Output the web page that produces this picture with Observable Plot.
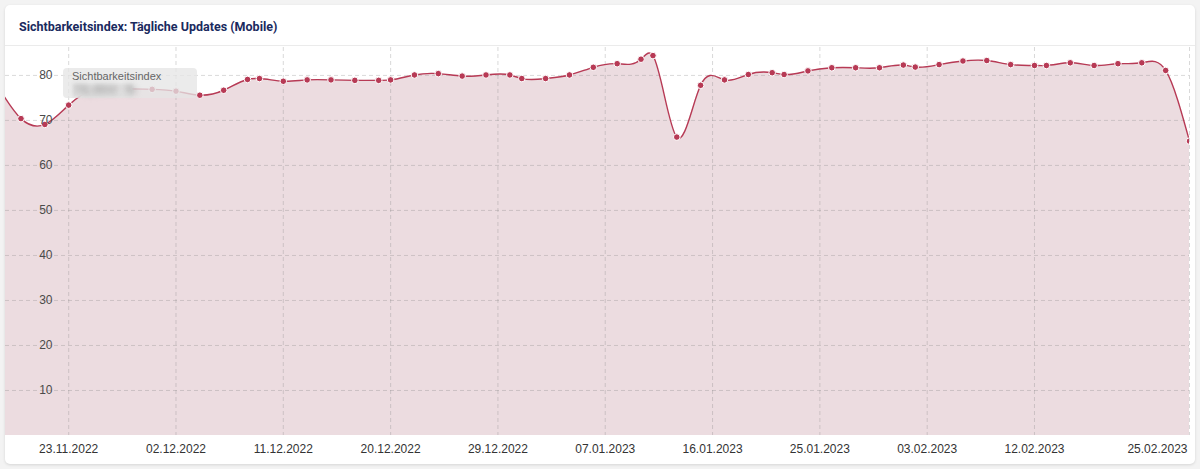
<!DOCTYPE html>
<html><head><meta charset="utf-8">
<script src="https://cdn.jsdelivr.net/npm/d3@7"></script>
<script src="https://cdn.jsdelivr.net/npm/@observablehq/plot@0.6"></script>
<style>
body{margin:0;background:#f3f3f3;width:1200px;height:469px;overflow:hidden;font-family:Roboto,"Liberation Sans",Arial,sans-serif}
.card{position:absolute;left:5px;top:5px;width:1190px;height:459px;background:#fff;border-radius:5px;box-shadow:0 1px 3px rgba(0,0,0,.12);overflow:hidden}
.head{height:41px;border-bottom:1px solid #ebebeb;box-sizing:border-box;padding-left:14px;line-height:43px;font-weight:700;font-size:12.5px;color:#1a2a5e}
#chart{position:absolute;left:0;top:41px}
.tip{position:absolute;left:58px;top:63px;width:134px;height:30px;background:rgba(230,230,230,0.78);border-radius:4px}
.tip .t{position:absolute;left:9px;top:2px;font-size:11px;color:#666;font-family:"Liberation Sans",Arial,sans-serif}
.tip .vb{position:absolute;left:10px;top:16px;width:60px;height:13px;background:rgba(222,222,222,0.95);filter:blur(1px)}
.tip .v{position:absolute;left:11px;top:15px;font-size:12px;font-weight:700;color:#a0a0a0;filter:blur(3px);font-family:"Liberation Sans",Arial,sans-serif;letter-spacing:1px}
</style></head>
<body>
<div class="card">
  <div class="head">Sichtbarkeitsindex: Tägliche Updates (Mobile)</div>
  <div id="chart"></div>
  <div class="tip"><div class="t">Sichtbarkeitsindex</div><div class="vb"></div><div class="v">76,904 &nbsp;%</div></div>
</div>
<script>
const dates = ["2022-11-17","2022-11-19","2022-11-21","2022-11-23","2022-11-25","2022-11-27","2022-11-28","2022-11-30",
"2022-12-02","2022-12-04","2022-12-06","2022-12-08","2022-12-09","2022-12-11","2022-12-13","2022-12-15","2022-12-17",
"2022-12-19","2022-12-20","2022-12-22","2022-12-24","2022-12-26","2022-12-28","2022-12-30","2022-12-31",
"2023-01-02","2023-01-04","2023-01-06","2023-01-08","2023-01-10","2023-01-11","2023-01-13","2023-01-15","2023-01-17",
"2023-01-19","2023-01-21","2023-01-22","2023-01-24","2023-01-26","2023-01-28","2023-01-30",
"2023-02-01","2023-02-02","2023-02-04","2023-02-06","2023-02-08","2023-02-10","2023-02-12","2023-02-13",
"2023-02-15","2023-02-17","2023-02-19","2023-02-21","2023-02-23","2023-02-25"];
const values = [77.8,70.4,69.1,73.4,76.8,77.0,77.0,76.9,
76.5,75.6,76.7,79.1,79.3,78.7,79.0,79.0,78.9,
78.9,79.0,80.1,80.4,79.85,80.1,80.1,79.3,
79.3,80.1,81.8,82.6,83.6,84.4,66.3,77.8,79.0,
80.2,80.6,80.2,81.0,81.7,81.7,81.7,
82.3,81.85,82.4,83.2,83.3,82.4,82.2,82.2,
82.8,82.2,82.6,82.8,81.1,65.4];
const xTickLabels = ["2022-11-23","2022-12-02","2022-12-11","2022-12-20","2022-12-29","2023-01-07","2023-01-16","2023-01-25","2023-02-03","2023-02-12"];
const xLastTick = ["2023-02-25"];
const yTicks = [10,20,30,40,50,60,70,80];
const xStart = "2022-11-17T16:50:00Z";

// natural cubic spline with y as a function of x (x-parametrised)
function NaturalX(context){ this._context = context; }
NaturalX.prototype = {
  areaStart(){ this._line = 0; },
  areaEnd(){ this._line = NaN; },
  lineStart(){ this._x = []; this._y = []; },
  point(x, y){ this._x.push(+x); this._y.push(+y); },
  lineEnd(){
    const X = this._x, Y = this._y, n = X.length, c = this._context;
    if (n) {
      this._line ? c.lineTo(X[0], Y[0]) : c.moveTo(X[0], Y[0]);
      let ok = n > 2;
      const h = [];
      for (let i = 0; i < n - 1; i++) { h[i] = X[i+1] - X[i]; if (h[i] === 0) ok = false; }
      if (!ok) { for (let i = 1; i < n; i++) c.lineTo(X[i], Y[i]); }
      else {
        const M = new Array(n).fill(0);
        const a = [], b = [], cc = [], r = [];
        for (let i = 1; i < n - 1; i++) {
          a[i] = h[i-1]; b[i] = 2 * (h[i-1] + h[i]); cc[i] = h[i];
          r[i] = 6 * ((Y[i+1] - Y[i]) / h[i] - (Y[i] - Y[i-1]) / h[i-1]);
        }
        for (let i = 2; i < n - 1; i++) {
          const m = a[i] / b[i-1];
          b[i] -= m * cc[i-1];
          r[i] -= m * r[i-1];
        }
        for (let i = n - 2; i >= 1; i--) {
          M[i] = (r[i] - (i < n - 2 ? cc[i] * M[i+1] : 0)) / b[i];
        }
        for (let i = 0; i < n - 1; i++) {
          const s = (Y[i+1] - Y[i]) / h[i];
          const d0 = s - h[i] * (2 * M[i] + M[i+1]) / 6;
          const d1 = s + h[i] * (M[i] + 2 * M[i+1]) / 6;
          c.bezierCurveTo(X[i] + h[i]/3, Y[i] + d0 * h[i]/3, X[i+1] - h[i]/3, Y[i+1] - d1 * h[i]/3, X[i+1], Y[i+1]);
        }
      }
    }
    if (this._line || (this._line !== 0 && n === 1)) c.closePath();
    this._line = 1 - this._line;
    this._x = this._y = null;
  }
};
const curveNaturalX = (context) => new NaturalX(context);

const data = dates.map((d,i)=>({date:new Date(d+"T00:00:00Z"), value:values[i]}));
const tickDates = xTickLabels.map(d=>new Date(d+"T00:00:00Z"));
const lastDates = xLastTick.map(d=>new Date(d+"T00:00:00Z"));
const fmt = d3.utcFormat("%d.%m.%Y");
const lineColor = "#b73a55";

const chart = Plot.plot({
  width: 1190, height: 418,
  marginLeft: 0, marginRight: 6, marginTop: 1, marginBottom: 29,
  style: {fontFamily: '"Liberation Sans", Arial, sans-serif', fontSize: "12px", background: "transparent"},
  x: {type: "utc", domain: [new Date(xStart), lastDates[0]], label: null},
  y: {domain: [0, 86.2], label: null},
  marks: [
    Plot.areaY(data, {x: "date", y: "value", curve: curveNaturalX, fill: "#ecdce0", clip: true}),
    Plot.gridY(yTicks, {stroke: "#8a8a8a", strokeOpacity: 0.32, strokeDasharray: "4,3"}),
    Plot.gridX(tickDates.concat(lastDates), {stroke: "#8a8a8a", strokeOpacity: 0.32, strokeDasharray: "4,3"}),
    Plot.lineY(data, {x: "date", y: "value", curve: curveNaturalX, stroke: lineColor, strokeWidth: 1.4, clip: true}),
    Plot.dot(data, {x: "date", y: "value", r: 3.3, fill: lineColor, stroke: "#fff", strokeWidth: 1, clip: true}),
    Plot.axisY(yTicks, {anchor: "left", tickSize: 0, tickPadding: -47, color: "#4a4a4a", fontSize: 12, label: null}),
    Plot.axisX(tickDates, {tickSize: 0, tickPadding: 9, tickFormat: fmt, color: "#333", fontSize: 12, label: null}),
    Plot.axisX(lastDates, {tickSize: 0, tickPadding: 9, tickFormat: fmt, color: "#333", fontSize: 12, textAnchor: "end", dx: -2, label: null})
  ]
});
document.getElementById("chart").appendChild(chart);
</script>
</body></html>
